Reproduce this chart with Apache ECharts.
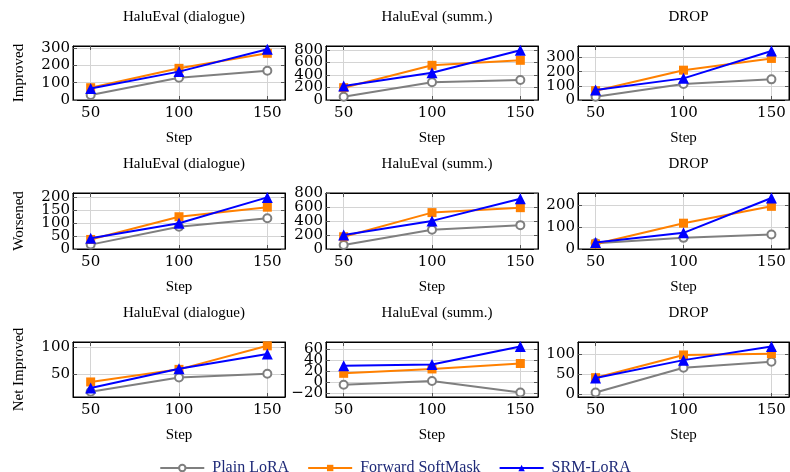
<!DOCTYPE html>
<html>
<head>
<meta charset="utf-8">
<script src="https://cdn.jsdelivr.net/npm/echarts@6/dist/echarts.min.js"></script>
<style>
html, body { margin: 0; padding: 0; background: #fff; }
#chart { width: 790px; height: 472px; }
</style>
</head>
<body>
<div id="chart"></div>
<script>
var steps = [50, 100, 150];
var seriesNames = ['Plain LoRA', 'Forward SoftMask', 'SRM-LoRA'];
var datasetNames = ['HaluEval (dialogue)', 'HaluEval (summ.)', 'DROP'];
var metricNames = ['Improved', 'Worsened', 'Net Improved'];

// each panel: [Plain LoRA, Forward SoftMask, SRM-LoRA] at steps 50/100/150
var improvedDialogue = [[29, 129, 169], [71, 183, 270], [67, 164, 293]];
var improvedSumm     = [[53, 283, 320], [197, 555, 635], [224, 437, 795]];
var improvedDrop     = [[23, 113, 146], [66, 211, 294], [70, 153, 347]];
var worsenedDialogue = [[17, 86, 119], [37, 125, 162], [42, 100, 200]];
var worsenedSumm     = [[57, 276, 343], [176, 523, 594], [200, 404, 723]];
var worsenedDrop     = [[26, 51, 66], [23, 118, 195], [30, 74, 233]];
var netDialogue      = [[18, 44, 51], [36, 59, 102], [25, 60, 87]];
var netSumm          = [[-5, 2, -19], [16, 24, 34], [30, 32, 65]];
var netDrop          = [[4, 66, 81], [41, 98, 101], [40, 85, 119]];

var panelData = [
    improvedDialogue, improvedSumm, improvedDrop,
    worsenedDialogue, worsenedSumm, worsenedDrop,
    netDialogue, netSumm, netDrop
];

var yTicks = [
    [0, 100, 200, 300], [0, 200, 400, 600, 800], [0, 100, 200, 300],
    [0, 50, 100, 150, 200], [0, 200, 400, 600, 800], [0, 100, 200],
    [50, 100], [-20, 0, 20, 40, 60], [0, 50, 100]
];
var yMin = [0, 0, 0, 0, 0, 0, 8.5, -27.4, -7.5];
var yMax = [312, 864, 382, 217, 805, 256, 109, 73.4, 130.5];

var colors = ['#7f7f7f', '#ff8000', '#0000ff'];
var symbols = ['emptyCircle', 'rect', 'triangle'];
var symbolSizes = [8, 9, 11];

var colLeft = [73, 326, 578];
var colWidth = [212, 212, 211];
var rowTop = [46, 193, 342];
var rowHeight = [54, 56, 55];

var serif = "'Liberation Serif', 'Times New Roman', serif";
var tickFont = "'DejaVu Serif', serif";

function fmt(v) { return v < 0 ? '\u2212' + (-v) : String(v); }

var chart = echarts.init(document.getElementById('chart'));

var grids = [], xAxes = [], yAxes = [], titles = [], series = [];

for (var i = 0; i < 9; i++) {
    var row = Math.floor(i / 3), col = i % 3;
    grids.push({
        left: colLeft[col],
        top: rowTop[row],
        width: colWidth[col],
        height: rowHeight[row],
        show: true,
        borderColor: '#000',
        borderWidth: 1
    });
    titles.push({
        text: datasetNames[col],
        left: colLeft[col] + colWidth[col] / 2,
        textAlign: 'center',
        top: rowTop[row] - 41,
        textStyle: { fontFamily: serif, fontSize: 15, fontWeight: 'normal', color: '#000' }
    });
    // bottom and top x axes
    xAxes.push({
        type: 'value', gridIndex: i, position: 'bottom',
        min: 40, max: 160,
        name: 'Step', nameLocation: 'middle', nameGap: 31,
        nameTextStyle: { fontFamily: serif, fontSize: 15, color: '#000' },
        axisLine: { onZero: false, lineStyle: { color: '#000', width: 1 } },
        axisTick: { inside: true, length: 4, customValues: steps, lineStyle: { color: '#555' } },
        axisLabel: { customValues: steps, fontFamily: tickFont, fontSize: 15, color: '#000', margin: 6 },
        splitLine: { show: true, lineStyle: { color: '#d4d4d4', width: 1 } }
    });
    xAxes.push({
        type: 'value', gridIndex: i, position: 'top',
        min: 40, max: 160,
        axisLine: { onZero: false, lineStyle: { color: '#000', width: 1 } },
        axisTick: { inside: true, length: 4, customValues: steps, lineStyle: { color: '#555' } },
        axisLabel: { show: false },
        splitLine: { show: false }
    });
    // y labels split over two left axes so the tight stacks are not thinned out
    var evenTicks = yTicks[i].filter(function (v, k) { return k % 2 === 0; });
    var oddTicks = yTicks[i].filter(function (v, k) { return k % 2 === 1; });
    var yl = {
        type: 'value', gridIndex: i, position: 'left',
        min: yMin[i], max: yMax[i],
        axisLine: { show: true, onZero: false, lineStyle: { color: '#000', width: 1 } },
        axisTick: { show: true, inside: true, length: 4, customValues: yTicks[i], lineStyle: { color: '#555' } },
        axisLabel: { customValues: evenTicks, fontFamily: tickFont, fontSize: 15, color: '#000', margin: 3, formatter: fmt },
        splitLine: { show: true, lineStyle: { color: '#d4d4d4', width: 1 } }
    };
    if (col === 0) {
        yl.name = metricNames[row];
        yl.nameLocation = 'middle';
        yl.nameRotate = 90;
        yl.nameGap = 46;
        yl.nameTextStyle = { fontFamily: serif, fontSize: 15, color: '#000' };
    }
    yAxes.push(yl);
    yAxes.push({
        type: 'value', gridIndex: i, position: 'right',
        min: yMin[i], max: yMax[i],
        axisLine: { show: true, onZero: false, lineStyle: { color: '#000', width: 1 } },
        axisTick: { show: true, inside: true, length: 4, customValues: yTicks[i], lineStyle: { color: '#555' } },
        axisLabel: { show: false },
        splitLine: { show: false }
    });
    yAxes.push({
        type: 'value', gridIndex: i, position: 'left', offset: 0,
        min: yMin[i], max: yMax[i],
        axisLine: { show: false, onZero: false },
        axisTick: { show: false },
        axisLabel: { show: oddTicks.length > 0, customValues: oddTicks.length ? oddTicks : [yMin[i]],
            fontFamily: tickFont, fontSize: 15, color: '#000', margin: 3, formatter: fmt },
        splitLine: { show: false }
    });

    for (var s = 0; s < 3; s++) {
        var vals = panelData[i][s];
        series.push({
            name: seriesNames[s],
            type: 'line',
            xAxisIndex: 2 * i,
            yAxisIndex: 3 * i,
            data: steps.map(function (x, k) { return [x, vals[k]]; }),
            symbol: symbols[s],
            symbolSize: symbolSizes[s],
            showAllSymbol: true,
            lineStyle: { color: colors[s], width: 2 },
            itemStyle: { color: colors[s], borderColor: colors[s], borderWidth: s === 0 ? 2 : 0 },
            z: 2 + s
        });
    }
}

chart.setOption({
    animation: false,
    backgroundColor: '#fff',
    title: titles,
    grid: grids,
    xAxis: xAxes,
    yAxis: yAxes,
    legend: {
        data: seriesNames,
        left: 'center',
        top: 455,
        itemWidth: 44,
        itemHeight: 8,
        itemGap: 18,
        textStyle: { fontFamily: serif, fontSize: 16, color: '#1f2a78', padding: [0, 0, 0, 3] }
    },
    series: series
});
</script>
</body>
</html>
